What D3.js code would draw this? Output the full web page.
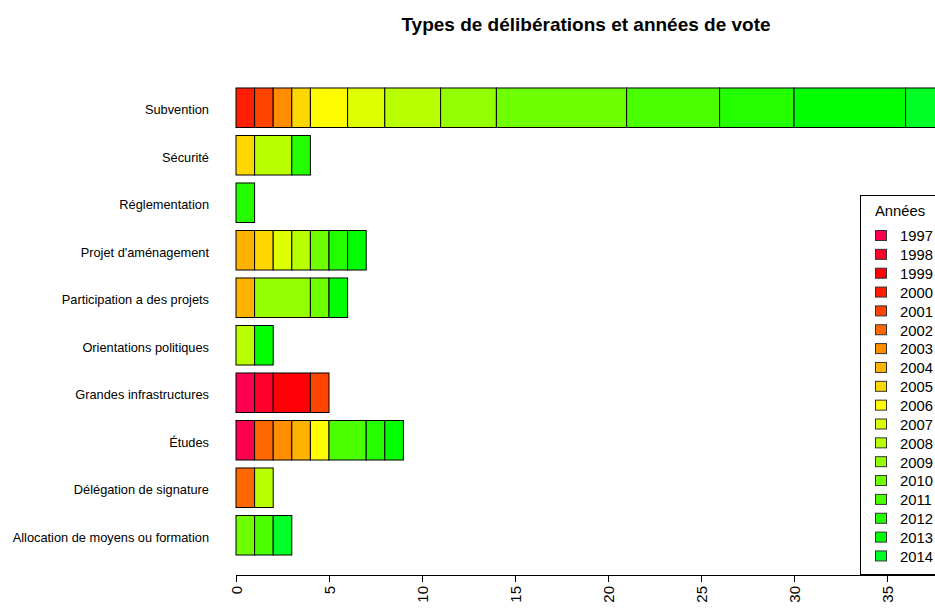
<!DOCTYPE html>
<html>
<head>
<meta charset="utf-8">
<script src="https://cdn.jsdelivr.net/npm/d3@7"></script>
<style>
  body { margin: 0; background: #fff; }
  svg { font-family: 'Liberation Sans', Arial, sans-serif; }
</style>
</head>
<body>
<svg id="chart" width="935" height="608"></svg>
<script>
const categories = [
  'Subvention', 'Sécurité', 'Réglementation', "Projet d'aménagement",
  'Participation a des projets', 'Orientations politiques',
  'Grandes infrastructures', 'Études', 'Délégation de signature',
  'Allocation de moyens ou formation'
];

const years = [1997, 1998, 1999, 2000, 2001, 2002, 2003, 2004, 2005,
  2006, 2007, 2008, 2009, 2010, 2011, 2012, 2013, 2014];

// one row per category, one column per year (1997 -> 2014)
const counts = [
  [0, 0, 0, 1, 1, 0, 1, 0, 1, 2, 2, 3, 3, 7, 5, 4, 6, 3],
  [0, 0, 0, 0, 0, 0, 0, 0, 1, 0, 0, 2, 0, 0, 0, 1, 0, 0],
  [0, 0, 0, 0, 0, 0, 0, 0, 0, 0, 0, 0, 0, 0, 0, 1, 0, 0],
  [0, 0, 0, 0, 0, 0, 0, 1, 1, 0, 1, 1, 0, 1, 0, 1, 1, 0],
  [0, 0, 0, 0, 0, 0, 0, 1, 0, 0, 0, 0, 3, 1, 0, 0, 1, 0],
  [0, 0, 0, 0, 0, 0, 0, 0, 0, 0, 0, 1, 0, 0, 0, 0, 1, 0],
  [1, 1, 2, 0, 1, 0, 0, 0, 0, 0, 0, 0, 0, 0, 0, 0, 0, 0],
  [1, 0, 0, 0, 0, 1, 1, 1, 0, 1, 0, 0, 0, 0, 2, 1, 1, 0],
  [0, 0, 0, 0, 0, 1, 0, 0, 0, 0, 0, 1, 0, 0, 0, 0, 0, 0],
  [0, 0, 0, 0, 0, 0, 0, 0, 0, 0, 0, 0, 0, 1, 1, 0, 0, 1]
];

const xTicks = [0, 5, 10, 15, 20, 25, 30, 35];

const svg = d3.select('#chart');

// hue ramp from pinkish red to green, like the original palette
const color = d3.scaleOrdinal()
  .domain(years)
  .range(years.map((d, i) => d3.hsl((341 + i * 8.7) % 360, 1, 0.5).formatHex()));

const x = d3.scaleLinear().domain([0, 40]).range([236, 980]);
const y = d3.scaleBand()
  .domain(categories)
  .range([84, 559])
  .paddingInner(0.168)
  .paddingOuter(0.084);

// Title
svg.append('text')
  .attr('x', 586)
  .attr('y', 31)
  .attr('text-anchor', 'middle')
  .style('font-size', '19px')
  .style('font-weight', 'bold')
  .text('Types de délibérations et années de vote');

// Stacked segments
const rows = categories.map((c, i) => {
  let acc = 0;
  return counts[i].map((v, j) => {
    const seg = { cat: c, year: years[j], x0: acc, x1: acc + v };
    acc += v;
    return seg;
  }).filter((s) => s.x1 > s.x0);
});

svg.append('g')
  .selectAll('g')
  .data(rows)
  .join('g')
  .selectAll('rect')
  .data((d) => d)
  .join('rect')
  .attr('x', (d) => x(d.x0))
  .attr('y', (d) => y(d.cat))
  .attr('width', (d) => x(d.x1) - x(d.x0))
  .attr('height', y.bandwidth())
  .attr('fill', (d) => color(d.year))
  .attr('stroke', '#000')
  .attr('stroke-width', 1);

// Category labels
svg.append('g')
  .selectAll('text')
  .data(categories)
  .join('text')
  .attr('x', 209)
  .attr('y', (d) => y(d) + y.bandwidth() / 2)
  .attr('dy', '0.5em')
  .attr('text-anchor', 'end')
  .style('font-size', '12.8px')
  .text((d) => d);

// X axis (line runs past the visible edge, as in the original)
const axis = svg.append('g')
  .attr('transform', 'translate(0,575)')
  .call(d3.axisBottom(x).tickValues(xTicks).tickSizeOuter(0).tickSize(7));
axis.select('.domain').attr('stroke', '#000');
axis.selectAll('.tick line').attr('stroke', '#000');
axis.selectAll('.tick text')
  .attr('transform', 'rotate(-90)')
  .attr('x', -11)
  .attr('y', 0)
  .attr('dy', '0.35em')
  .attr('text-anchor', 'end')
  .attr('fill', '#000')
  .style('font-size', '15px')
  .style('font-family', "'Liberation Sans', Arial, sans-serif");

// Legend
const legend = svg.append('g');
legend.append('rect')
  .attr('x', 860.5)
  .attr('y', 195.5)
  .attr('width', 100)
  .attr('height', 379)
  .attr('fill', '#fff')
  .attr('stroke', '#000');

legend.append('text')
  .attr('x', 875)
  .attr('y', 216)
  .style('font-size', '14.8px')
  .text('Années');

const item = legend.selectAll('g.item')
  .data(years)
  .join('g')
  .attr('class', 'item')
  .attr('transform', (d, i) => 'translate(0,' + (236 + i * 18.85) + ')');

item.append('rect')
  .attr('x', 875.5)
  .attr('y', -5.5)
  .attr('width', 11)
  .attr('height', 10)
  .attr('fill', (d) => color(d))
  .attr('stroke', '#333');

item.append('text')
  .attr('x', 900)
  .attr('y', 0)
  .attr('dy', '0.36em')
  .style('font-size', '14.8px')
  .text((d) => d);
</script>
</body>
</html>
